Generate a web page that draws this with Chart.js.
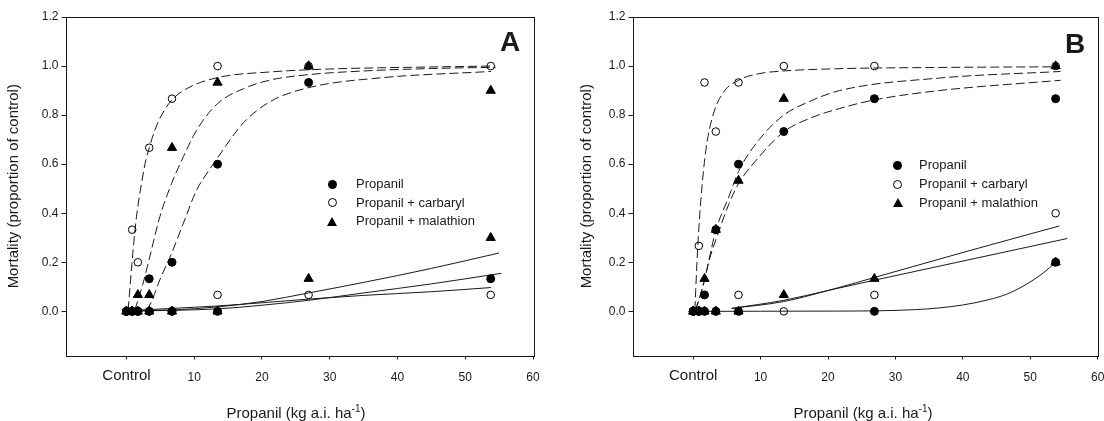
<!DOCTYPE html>
<html>
<head>
<meta charset="utf-8">
<script src="https://cdn.jsdelivr.net/npm/chart.js@4/dist/chart.umd.min.js"></script>
<style>
  body { margin: 0; background: #fff; overflow: hidden; }
  #wrap { position: relative; width: 1104px; height: 421px; background: #fff;
          font-family: "Liberation Sans", Arial, sans-serif; color: #1a1a1a; }
  canvas { position: absolute; top: 0; }
  .xtitle { position: absolute; top: 404px; font-size: 15px; line-height: 18px;
            transform: translateX(-50%); white-space: nowrap; }
  .xtitle sup { font-size: 10px; line-height: 0; vertical-align: 6px; }
  .tag { position: absolute; font-weight: bold; font-size: 28px; line-height: 28px; }
  .legend { position: absolute; font-size: 13px; }
  .legend .row { position: absolute; height: 18px; line-height: 18px; white-space: nowrap; }
  .mk { position: absolute; }
  .dot { width: 9px; height: 9px; border-radius: 50%; background: #000; }
  .ring { width: 7px; height: 7px; border-radius: 50%; border: 1px solid #000; }
  .tri { width: 0; height: 0; border-left: 5px solid transparent; border-right: 5px solid transparent;
         border-bottom: 9px solid #000; }
</style>
</head>
<body>
<div id="wrap">
  <canvas id="chartA" width="552" height="421" style="left:0"></canvas>
  <canvas id="chartB" width="552" height="421" style="left:552px"></canvas>
  <div class="tag" style="left:500px;top:28px">A</div>
  <div class="tag" style="left:1065px;top:30px">B</div>
  <div class="xtitle" style="left:296px">Propanil (kg a.i. ha<sup>-1</sup>)</div>
  <div class="xtitle" style="left:863px">Propanil (kg a.i. ha<sup>-1</sup>)</div>
  <div id="legA" class="legend"></div>
  <div id="legB" class="legend"></div>
</div>
<script>
// doses (kg a.i./ha), 0 = control
const doses = [0, 0.84, 1.68, 3.36, 6.72, 13.44, 26.88, 53.76];
const xTicks = [0, 10, 20, 30, 40, 50, 60];
const yTicks = [0, 0.2, 0.4, 0.6, 0.8, 1.0, 1.2];
const seriesNames = ['Propanil', 'Propanil + carbaryl', 'Propanil + malathion'];

// panel A observed mortality (dashed = high set, solid = low set)
const aPropHi = [0, 0, 0, 0.133, 0.2, 0.6, 0.933, null];
const aPropLo = [0, 0, 0, 0, 0, 0, null, 0.133];
const aCarbHi = [0, 0.333, 0.2, 0.667, 0.867, 1.0, 1.0, 1.0];
const aCarbLo = [0, 0, 0, 0, 0, 0.067, 0.067, 0.067];
const aMalaHi = [0, 0, 0.067, 0.067, 0.667, 0.933, 1.0, 0.9];
const aMalaLo = [0, 0, 0, 0, 0, 0, 0.133, 0.3];

// panel A fitted curves as [dose, mortality]
const aCarbFit = [[0.24,0.005],[0.98,0.251],[1.48,0.386],[2.22,0.522],[2.86,0.617],[3.36,0.667],[4.19,0.739],[5.18,0.8],[6.67,0.861],[8.9,0.908],[13.44,0.953],[21.2,0.976],[30,0.988],[42,0.995],[53.8,1.0]];
const aMalaFit = [[1.23,0.005],[2.46,0.115],[3.45,0.224],[4.93,0.386],[6.67,0.522],[8.39,0.63],[10.37,0.739],[13.44,0.847],[17.3,0.908],[21.2,0.943],[26.88,0.965],[35,0.98],[45,0.99],[54.5,0.995]];
const aPropFit = [[3.0,0.005],[3.7,0.04],[4.93,0.129],[6.67,0.237],[8.39,0.359],[10.37,0.495],[12.3,0.58],[13.44,0.625],[15.3,0.7],[17.3,0.77],[21.2,0.855],[26.88,0.912],[37.5,0.952],[53.8,0.978]];
const aMalaLoFit = [[0.5,0.002],[6.72,0.006],[13.44,0.018],[20,0.04],[26.88,0.075],[35,0.118],[45,0.175],[55,0.238]];
const aPropLoFit = [[0.5,0.001],[6.72,0.004],[13.44,0.01],[20,0.025],[26.88,0.045],[35,0.075],[45,0.112],[55.3,0.155]];
const aCarbLoFit = [[0.5,0.003],[6.72,0.012],[13.44,0.022],[20,0.035],[26.88,0.05],[35,0.065],[45,0.08],[53.8,0.097]];

// panel B observed mortality
const bPropHi = [0, 0, 0.067, 0.333, 0.6, 0.733, 0.867, 0.867];
const bPropLo = [0, 0, 0, 0, 0, null, 0, 0.2];
const bCarbHi = [0, 0.267, 0.933, 0.733, 0.933, 1.0, 1.0, 1.0];
const bCarbLo = [0, 0, 0, 0, 0.067, 0, 0.067, 0.4];
const bMalaHi = [0, 0, 0.133, 0.333, 0.533, 0.867, null, 1.0];
const bMalaLo = [0, 0, 0, 0, 0, 0.067, 0.133, 0.2];

// panel B fitted curves
const bCarbFit = [[0.25,0.005],[0.65,0.25],[1.14,0.454],[1.88,0.657],[2.87,0.793],[4.36,0.888],[6.72,0.942],[9.78,0.969],[13.44,0.98],[21.1,0.989],[35,0.994],[54,0.997]];
const bMalaFit = [[0.4,0.005],[1.0,0.06],[1.63,0.12],[2.5,0.23],[3.36,0.33],[5.33,0.47],[6.72,0.57],[9.78,0.7],[13.44,0.8],[17.2,0.855],[21.7,0.9],[36.5,0.951],[54.5,0.978]];
const bPropFit = [[0.3,0.005],[1.0,0.06],[1.68,0.13],[2.5,0.22],[3.6,0.31],[5.33,0.44],[6.72,0.52],[9.78,0.63],[13.44,0.732],[17.2,0.786],[21.7,0.827],[26.88,0.862],[36.5,0.9],[54.5,0.942]];
const bCarbLoFit = [[5.7,0.012],[13.44,0.04],[20,0.085],[26.88,0.138],[40,0.24],[54.3,0.348]];
const bMalaLoFit = [[5.7,0.012],[13.44,0.045],[20,0.085],[26.88,0.127],[40,0.205],[55.5,0.297]];
const bPropLoFit = [[0.3,0],[10,0.0005],[20,0.001],[26.88,0.002],[33,0.007],[36.5,0.014],[40,0.026],[43.9,0.048],[46.5,0.07],[48.9,0.102],[51.9,0.156],[53.76,0.2]];

const FONT = '"Liberation Sans", Arial, sans-serif';
const INK = '#1a1a1a';

function pts(vals) {
    return doses.map((d, i) => ({ x: d, y: vals[i] })).filter(p => p.y !== null);
}

function markerSet(vals, style) {
    const base = { data: pts(vals), showLine: false, order: 0, pointBorderWidth: 1, pointBorderColor: '#000' };
    if (style === 'dot') return Object.assign(base, { pointStyle: 'circle', pointRadius: 4, pointBackgroundColor: '#000' });
    if (style === 'ring') return Object.assign(base, { pointStyle: 'circle', pointRadius: 3.8, pointBackgroundColor: 'rgba(0,0,0,0)' });
    return Object.assign(base, { pointStyle: 'triangle', pointRadius: 5.3, pointBackgroundColor: '#000' });
}

function curveSet(pairs, dashed) {
    return {
        data: pairs.map(p => ({ x: p[0], y: p[1] })),
        showLine: true, order: 1, pointRadius: 0,
        borderColor: INK, borderWidth: 1,
        borderDash: dashed ? [9, 4] : [],
        cubicInterpolationMode: 'monotone'
    };
}

// draws the box round the plot area
const frame = {
    id: 'frame',
    afterDraw(chart) {
        const a = chart.chartArea, c = chart.ctx;
        c.save();
        c.strokeStyle = INK;
        c.lineWidth = 1;
        c.strokeRect(Math.round(a.left) + 0.5, Math.round(a.top) + 0.5,
                     Math.round(a.right - a.left), Math.round(a.bottom - a.top));
        c.restore();
    }
};

function makePanel(id, datasets, pad, yWidth) {
    new Chart(document.getElementById(id), {
        type: 'scatter',
        data: { datasets: datasets },
        plugins: [frame],
        options: {
            responsive: false,
            devicePixelRatio: 1,
            animation: false,
            layout: { padding: pad },
            plugins: { legend: { display: false }, tooltip: { enabled: false } },
            scales: {
                x: {
                    type: 'linear', min: -9, max: 60,
                    border: { display: false },
                    grid: { drawOnChartArea: false, tickLength: 4, color: INK },
                    afterBuildTicks: s => { s.ticks = xTicks.map(v => ({ value: v })); },
                    afterFit: s => { s.height = 65.5; s.paddingLeft = 0; s.paddingRight = 0; },
                    ticks: {
                        padding: 16.5, color: INK, maxRotation: 0, autoSkip: false,
                        crossAlign: 'center',
                        font: ctx => ({ family: FONT, size: (ctx.tick && ctx.tick.value === 0) ? 15 : 12 }),
                        callback: v => v === 0 ? 'Control' : String(v)
                    }
                },
                y: {
                    type: 'linear', min: -0.18, max: 1.2,
                    border: { display: false },
                    grid: { drawOnChartArea: false, tickLength: 4, color: INK },
                    afterBuildTicks: s => { s.ticks = yTicks.map(v => ({ value: v })); },
                    afterFit: s => { s.width = yWidth; s.paddingTop = 0; s.paddingBottom = 0; },
                    ticks: {
                        padding: 3, color: INK,
                        font: { family: FONT, size: 12 },
                        callback: v => v.toFixed(1)
                    },
                    title: {
                        display: true, text: 'Mortality (proportion of control)',
                        color: INK, padding: { top: 4, bottom: 4 },
                        font: { family: FONT, size: 15 }
                    }
                }
            }
        }
    });
}

makePanel('chartA', [
    markerSet(aPropHi, 'dot'), markerSet(aPropLo, 'dot'),
    markerSet(aCarbHi, 'ring'), markerSet(aCarbLo, 'ring'),
    markerSet(aMalaHi, 'tri'), markerSet(aMalaLo, 'tri'),
    curveSet(aCarbFit, true), curveSet(aMalaFit, true), curveSet(aPropFit, true),
    curveSet(aMalaLoFit, false), curveSet(aPropLoFit, false), curveSet(aCarbLoFit, false)
], { left: 1, right: 19, top: 17, bottom: 0 }, 64.5);

makePanel('chartB', [
    markerSet(bPropHi, 'dot'), markerSet(bPropLo, 'dot'),
    markerSet(bCarbHi, 'ring'), markerSet(bCarbLo, 'ring'),
    markerSet(bMalaHi, 'tri'), markerSet(bMalaLo, 'tri'),
    curveSet(bCarbFit, true), curveSet(bMalaFit, true), curveSet(bPropFit, true),
    curveSet(bCarbLoFit, false), curveSet(bMalaLoFit, false), curveSet(bPropLoFit, false)
], { left: 22, right: 6, top: 17, bottom: 0 }, 58.5);

// legends inside the plot areas
function buildLegend(elId, markX, textX, rowYs) {
    const el = document.getElementById(elId);
    const kinds = ['dot', 'ring', 'tri'];
    seriesNames.forEach((name, i) => {
        const mk = document.createElement('div');
        mk.className = 'mk ' + kinds[i];
        const w = kinds[i] === 'tri' ? 10 : 9, h = 9;
        mk.style.left = (markX - w / 2) + 'px';
        mk.style.top = (rowYs[i] - h / 2) + 'px';
        el.appendChild(mk);
        const row = document.createElement('div');
        row.className = 'row';
        row.style.left = textX + 'px';
        row.style.top = (rowYs[i] - 9) + 'px';
        row.textContent = name;
        el.appendChild(row);
    });
}
buildLegend('legA', 332, 356, [184, 202.5, 221]);
buildLegend('legB', 897.5, 919, [165, 184, 202.5]);
</script>
</body>
</html>
